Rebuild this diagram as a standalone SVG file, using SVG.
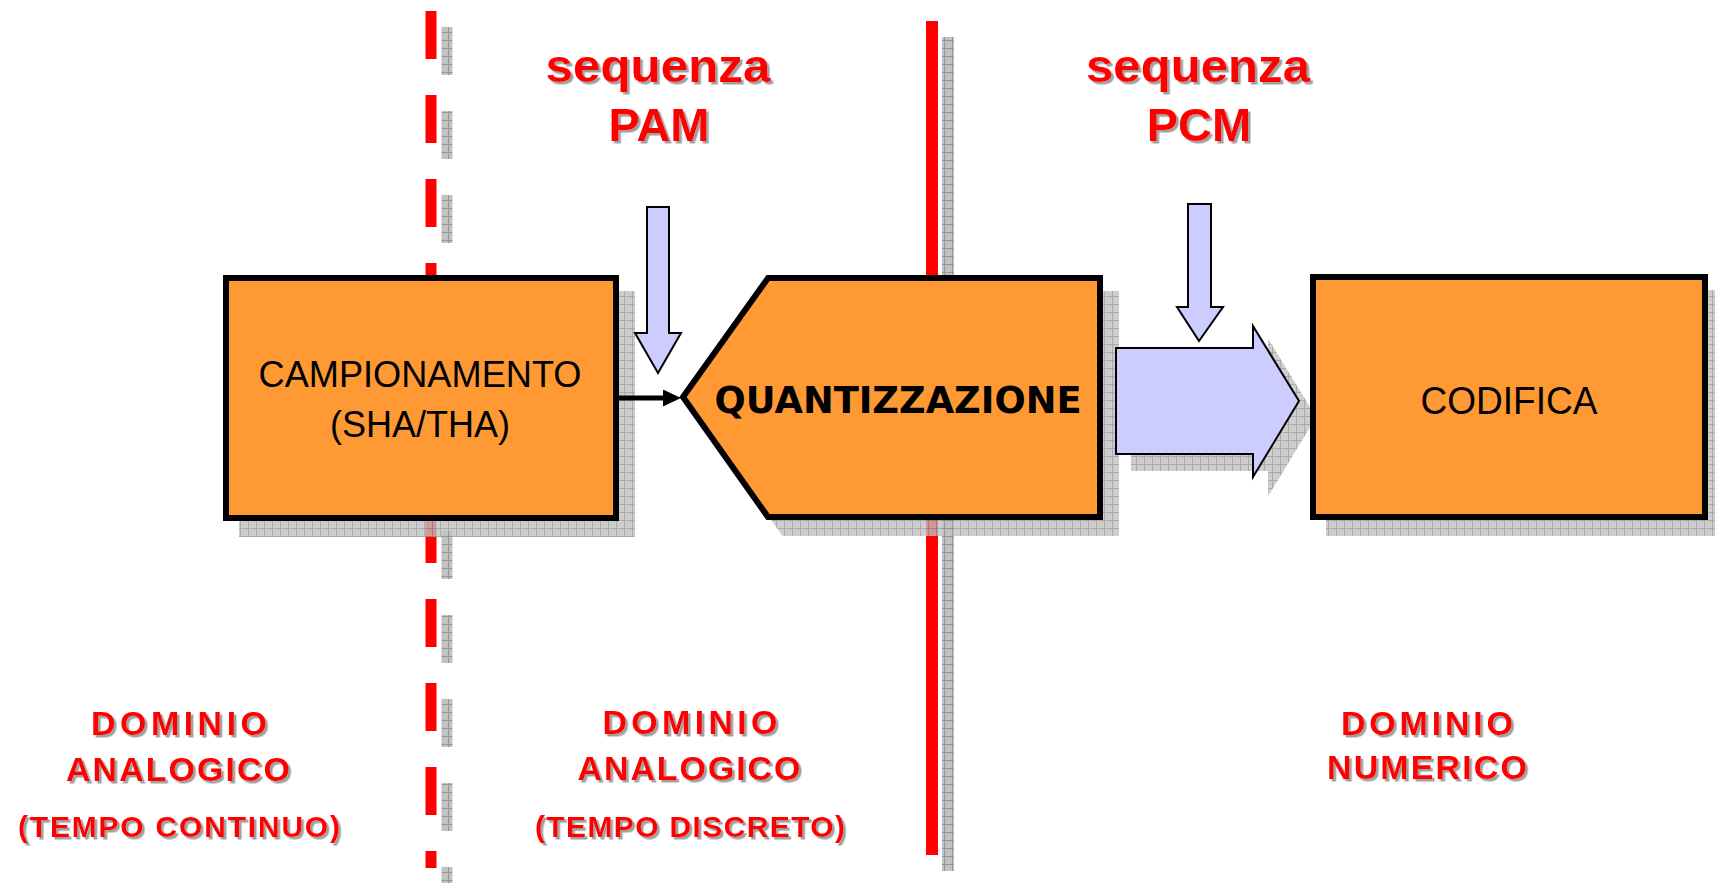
<svg xmlns="http://www.w3.org/2000/svg" width="1715" height="883" viewBox="0 0 1715 883">
<style>
.box{fill:#FF9933;stroke:#000;stroke-width:6;stroke-linejoin:miter}
.shadow{fill:url(#hatch);stroke:url(#hatch);stroke-width:6;opacity:0.8}
.blue{fill:#CCCCFF;stroke:#000;stroke-width:2;stroke-linejoin:miter}
.red{font-family:"Liberation Sans",Arial,sans-serif;font-weight:bold;fill:#FF0000;text-anchor:middle;filter:url(#tsh)}
.node{font-family:"Liberation Sans",Arial,sans-serif;fill:#000;text-anchor:middle}
.q{font-family:"DejaVu Sans",Verdana,sans-serif;font-weight:bold;fill:#000;text-anchor:middle}
</style>
<defs>
<pattern id="hatch" width="8" height="8" patternUnits="userSpaceOnUse">
<rect width="8" height="8" fill="#C2C2C2"/>
<path d="M0 0.5H8M0.5 0V8" stroke="#969696" stroke-width="1"/>
</pattern>
<filter id="tsh" x="-5%" y="-10%" width="115%" height="130%">
<feDropShadow dx="2.5" dy="2.5" stdDeviation="0.3" flood-color="#A0A0A0" flood-opacity="1"/>
</filter>
<marker id="ah" markerWidth="5" markerHeight="5" refX="1.6" refY="1.7" orient="auto" markerUnits="strokeWidth">
<path d="M0,0 L3.6,1.7 L0,3.4 z" fill="#000"/>
</marker>
</defs>
<rect width="1715" height="883" fill="#FFFFFF"/>

<g id="dividers">
<line x1="447" y1="27" x2="447" y2="884" stroke="url(#hatch)" stroke-width="11" stroke-dasharray="48 36"/>
<line x1="431" y1="11" x2="431" y2="868" stroke="#FF0000" stroke-width="11" stroke-dasharray="48 36"/>
<line x1="948" y1="37" x2="948" y2="871" stroke="url(#hatch)" stroke-width="12"/>
<line x1="932" y1="21" x2="932" y2="855" stroke="#FF0000" stroke-width="12"/>
</g>

<g id="labels">
<text class="red" x="658" y="82" font-size="47" textLength="225" lengthAdjust="spacingAndGlyphs">sequenza</text>
<text class="red" x="659" y="141" font-size="47">PAM</text>
<text class="red" x="1198" y="82" font-size="47" textLength="224" lengthAdjust="spacingAndGlyphs">sequenza</text>
<text class="red" x="1199" y="141" font-size="47">PCM</text>
<text class="red" x="179" y="735" font-size="34" textLength="176" lengthAdjust="spacing">DOMINIO</text>
<text class="red" x="178" y="781" font-size="34" textLength="224" lengthAdjust="spacing">ANALOGICO</text>
<text class="red" x="179" y="837" font-size="30" textLength="322" lengthAdjust="spacing">(TEMPO CONTINUO)</text>
<text class="red" x="690" y="734" font-size="34" textLength="175" lengthAdjust="spacing">DOMINIO</text>
<text class="red" x="689" y="780" font-size="34" textLength="223" lengthAdjust="spacing">ANALOGICO</text>
<text class="red" x="690" y="837" font-size="30" textLength="310" lengthAdjust="spacing">(TEMPO DISCRETO)</text>
<text class="red" x="1427" y="735" font-size="34" textLength="172" lengthAdjust="spacing">DOMINIO</text>
<text class="red" x="1427" y="779" font-size="34" textLength="200" lengthAdjust="spacing">NUMERICO</text>
</g>

<g id="shadows">
<rect class="shadow" x="242" y="294" width="390" height="240"/>
<polygon class="shadow" points="699,413 784,294 1116,294 1116,533 784,533"/>
<rect class="shadow" x="1329" y="293" width="392" height="240"/>
<polygon class="shadow" style="stroke-width:2" points="1132,364 1269,364 1269,342 1315,417 1269,493 1269,470 1132,470"/>
</g>

<g id="campionamento">
<rect class="box" x="226" y="278" width="390" height="240"/>
<text class="node" x="420" y="387" font-size="36" textLength="323" lengthAdjust="spacingAndGlyphs">CAMPIONAMENTO</text>
<text class="node" x="420" y="437" font-size="36">(SHA/THA)</text>
</g>

<g id="quantizzazione">
<polygon class="box" points="683,397 768,278 1100,278 1100,517 768,517"/>
<text class="q" x="898" y="413" font-size="37" textLength="367" lengthAdjust="spacingAndGlyphs">QUANTIZZAZIONE</text>
</g>

<g id="codifica">
<rect class="box" x="1313" y="277" width="392" height="240"/>
<text class="node" x="1509" y="414" font-size="38" textLength="177" lengthAdjust="spacingAndGlyphs">CODIFICA</text>
</g>

<g id="pam-arrow">
<polygon class="blue" points="647,207 669,207 669,333 681,333 658,373 635,333 647,333"/>
</g>
<g id="pcm-arrow">
<polygon class="blue" points="1188,204 1211,204 1211,307 1223,307 1199,341 1177,307 1188,307"/>
</g>

<g id="connectors">
<line x1="619" y1="398" x2="671" y2="398" stroke="#000" stroke-width="5" marker-end="url(#ah)"/>
<polygon class="blue" points="1116,348 1253,348 1253,326 1299,401 1253,477 1253,454 1116,454"/>
</g>
</svg>
